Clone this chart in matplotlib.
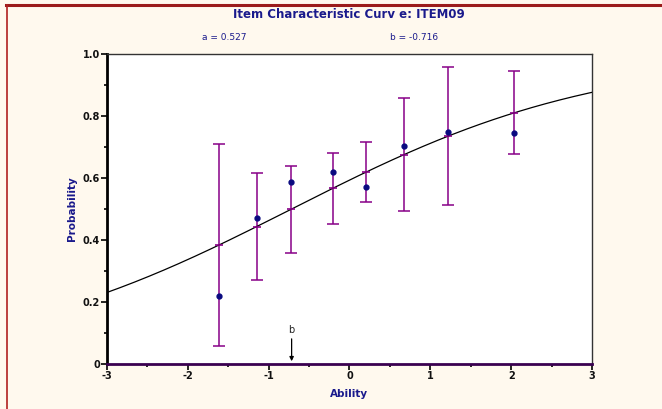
import numpy as np
import matplotlib
matplotlib.use("Agg")
import matplotlib.pyplot as plt
from matplotlib.lines import Line2D

a_param = 0.527
b_param = -0.716
ability = [-1.62, -1.15, -0.72, -0.21, 0.20, 0.67, 1.22, 2.04]
prob = [0.220, 0.470, 0.588, 0.618, 0.572, 0.704, 0.750, 0.744]
ci_low = [0.058, 0.271, 0.358, 0.453, 0.524, 0.495, 0.514, 0.678]
ci_high = [0.710, 0.615, 0.640, 0.681, 0.715, 0.857, 0.957, 0.944]
xticks = [-3, -2, -1, 0, 1, 2, 3]
yticks = [0, 0.2, 0.4, 0.6, 0.8, 1.0]
yticklabels = ["0", "0.2", "0.4", "0.6", "0.8", "1.0"]

bg = "#FFF9EE"
navy = "#1A1A8C"
purple = "#880088"

fig = plt.figure(figsize=(6.62, 4.09), dpi=100, facecolor=bg)
ax = fig.add_axes([107/662, 1-364/409, (592-107)/662, (364-54)/409])
ax.set_facecolor("white")

def icc(x):
    return 1.0 / (1.0 + np.exp(-a_param * (np.asarray(x) - b_param)))

xs = np.linspace(-3, 3, 300)
ax.plot(xs, icc(xs), color="black", lw=0.9, zorder=3)

x = np.array(ability)
p = np.array(prob)
lo = np.array(ci_low)
hi = np.array(ci_high)
ax.errorbar(x, p, yerr=[p - lo, hi - p], fmt="none", ecolor=purple, elinewidth=1.1,
            capsize=4.6, capthick=1.1, zorder=2)
ax.plot(x, icc(x), linestyle="none", marker="_", color=purple, ms=6, mew=1.2, zorder=4)
ax.plot(x, p, linestyle="none", marker="o", color="#0A0A80", ms=3.5, zorder=5)

ax.annotate("", xy=(b_param, 0.0), xytext=(b_param, 0.09),
            arrowprops=dict(arrowstyle="-|>", color="black", lw=0.9, mutation_scale=6))
ax.text(b_param, 0.095, "b", ha="center", va="bottom", fontsize=7, color="#222222")

ax.set_xlim(-3, 3)
ax.set_ylim(0, 1.0)
ax.set_xticks(xticks)
ax.set_xticklabels([str(t) for t in xticks])
ax.set_xticks(np.arange(-2.5, 3, 1.0), minor=True)
ax.set_yticks(yticks)
ax.set_yticklabels(yticklabels)
ax.set_yticks(np.arange(0.1, 1.0, 0.2), minor=True)
ax.tick_params(axis="both", which="major", direction="out", length=4, width=1.2,
               labelsize=7, pad=1)
ax.tick_params(axis="both", which="minor", direction="out", length=2.5, width=1.2)
for lab in ax.get_xticklabels() + ax.get_yticklabels():
    lab.set_fontweight("bold")
    lab.set_color("#111111")

ax.spines["left"].set_linewidth(2.0)
ax.spines["left"].set_color("black")
ax.spines["bottom"].set_linewidth(2.0)
ax.spines["bottom"].set_color("#3A0050")
ax.spines["top"].set_linewidth(1.0)
ax.spines["top"].set_color("#333333")
ax.spines["right"].set_linewidth(1.0)
ax.spines["right"].set_color("#333333")

ax.set_xlabel("Ability", fontsize=7.5, fontweight="bold", color=navy, labelpad=6)
ax.set_ylabel("Probability", fontsize=7.5, fontweight="bold", color=navy, labelpad=4)

fig.text(349/662, 1-15/409, "Item Characteristic Curv e: ITEM09", ha="center", va="center",
         fontsize=8.5, fontweight="bold", color=navy)
fig.text(224/662, 1-37/409, "a = 0.527", ha="center", va="center", fontsize=6.5, color=navy)
fig.text(414/662, 1-37/409, "b = -0.716", ha="center", va="center", fontsize=6.5, color=navy)

fig.add_artist(Line2D([6/662, 1], [1-5/409, 1-5/409], transform=fig.transFigure,
                      color="#9B1B1B", lw=2.2))
fig.add_artist(Line2D([7/662, 7/662], [0, 1-5/409], transform=fig.transFigure,
                      color="#B02020", lw=1.2))

fig.savefig("out.png", dpi=100, facecolor=bg)
